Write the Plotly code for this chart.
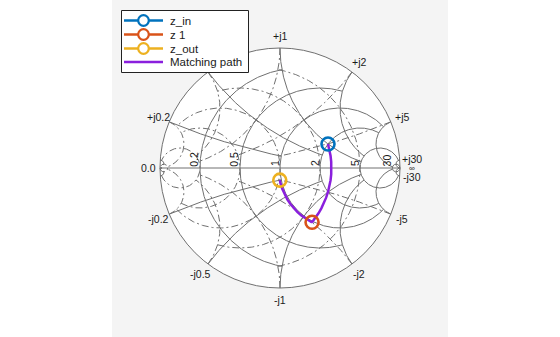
import numpy as np
import plotly.graph_objects as go

# ---------------- data ----------------
grid_values = [30, 5, 2, 1, 0.5, 0.2]          # grid circle values
grid_ends = [np.inf, 30, 5, 5, 2, 1]            # where each grid circle stops
real_labels = ["30", "5", "2", "1", "0.5", "0.2"]
imag_pos_labels = ["+j30", "+j5", "+j2", "+j1", "+j0.5", "+j0.2"]
imag_neg_labels = ["-j30", "-j5", "-j2", "-j1", "-j0.5", "-j0.2"]

series_names = ["z_in", "z 1", "z_out"]
series_r = [2.0, 0.976, 0.976]
series_x = [1.0, -1.22, -0.2]
series_colors = ["#0072BD", "#D95319", "#EDB120"]

path_name = "Matching path"
path_g = 0.4   # shunt step: constant conductance
path_b = [-0.2, -0.15, -0.1, -0.05, 0.0, 0.05, 0.1, 0.15, 0.2, 0.25, 0.3, 0.35, 0.4, 0.45, 0.5]
path_r = 0.976  # series step: constant resistance
path_x = [-1.22, -1.15, -1.05, -0.95, -0.85, -0.75, -0.65, -0.55, -0.45, -0.35, -0.25, -0.2]
path_color = "#8A1FDD"

# ---------------- helpers ----------------
W, H = 560, 337
CX, CY, RAD = 280.0, 168.0, 120.0   # chart centre / radius in px
GRID = "#707070"
FONT = "Liberation Sans, Arial, sans-serif"
TXT = "#1a1a1a"


def gamma(z):
    return (z - 1) / (z + 1)


def r_circle(r, e):
    c, R = r / (1 + r), 1 / (1 + r)
    t0 = 0.0 if np.isinf(e) else np.angle(gamma(complex(r, e)) - c)
    t = np.linspace(t0, 2 * np.pi - t0, 500)
    return c + R * np.exp(1j * t)


def x_arc(x, e):
    C, R = 1 + 1j / x, 1 / x
    g0 = gamma(1j * x)
    ge = 1 + 0j if np.isinf(e) else gamma(complex(e, x))
    p0 = np.angle(g0 - C) % (2 * np.pi)
    pe = np.angle(ge - C) % (2 * np.pi)
    if pe < p0:
        pe += 2 * np.pi
    t = np.linspace(p0, pe, 500)
    return C + R * np.exp(1j * t)


fig = go.Figure()


def add_curve(pts, dash):
    fig.add_trace(go.Scatter(x=pts.real, y=pts.imag, mode="lines",
                             line=dict(color=GRID, width=1, dash=dash),
                             hoverinfo="skip", showlegend=False))


# admittance grid (mirrored, dash-dot) then impedance grid (solid)
for sign, dash in [(-1, "7px,3px,2px,3px"), (1, "solid")]:
    for v, e in zip(grid_values, grid_ends):
        add_curve(sign * r_circle(v, e), dash)
        arc = x_arc(v, e)
        add_curve(sign * arc, dash)
        add_curve(sign * np.conj(arc), dash)
add_curve(np.array([-1 + 0j, 1 + 0j]), "solid")

# matching path
seg1 = gamma(1 / (path_g + 1j * np.array(path_b)))
seg2 = gamma(path_r + 1j * np.array(path_x))
path = np.concatenate([seg1, seg2])
fig.add_trace(go.Scatter(x=path.real, y=path.imag, mode="lines", name=path_name,
                         line=dict(color=path_color, width=2.5), showlegend=False))

# markers
for n, r, x, c in zip(series_names, series_r, series_x, series_colors):
    g = gamma(complex(r, x))
    fig.add_trace(go.Scatter(x=[g.real], y=[g.imag], mode="markers", name=n,
                             marker=dict(symbol="circle-open", size=13, color=c,
                                         line=dict(width=2.6, color=c)),
                             showlegend=False))

shapes = []
# figure background panel
shapes.append(dict(type="rect", xref="paper", yref="paper", x0=112 / W, x1=448 / W,
                   y0=0, y1=1, fillcolor="#F4F4F4", line=dict(width=0), layer="below"))
shapes.append(dict(type="circle", xref="x", yref="y", x0=-1, x1=1, y0=-1, y1=1,
                   fillcolor="white", line=dict(color=GRID, width=1), layer="below"))

annotations = []


def ann(x, y, text, **kw):
    d = dict(x=x, y=y, text=text, showarrow=False, xref="x", yref="y",
             font=dict(family=FONT, size=10.5, color=TXT),
             xanchor="center", yanchor="middle")
    d.update(kw)
    annotations.append(d)


# real-axis labels (rotated)
for v, lab in zip(grid_values, real_labels):
    gx = (v - 1) / (v + 1)
    ln = sum(2.9 if ch == "." else 5.8 for ch in lab)
    ann(gx - 5.5 / RAD, (1.5 + ln / 2) / RAD, lab, textangle=-90)

# reactance labels round the rim
for v, lp, lneg in zip(grid_values, imag_pos_labels, imag_neg_labels):
    g = gamma(1j * v) * 1.1
    if lp != "+j0.5":          # hidden beneath the legend in the reference
        ann(g.real, g.imag, lp)
    ann(g.real, -g.imag, lneg)
ann(-1.1, 0, "0.0")
ann(1.1, 0, "∞", font=dict(family=FONT, size=8, color=TXT))

# ---------------- legend (drawn manually) ----------------
def px(x):
    return x / W


def py(y):
    return 1 - y / H


L0, T0, L1, T1 = 121.5, 10.5, 248.5, 72.5
shapes.append(dict(type="rect", xref="paper", yref="paper", x0=px(L0), x1=px(L1),
                   y0=py(T1), y1=py(T0), fillcolor="white",
                   line=dict(color="#222222", width=1), layer="above"))
rows = [20.5, 34.5, 48.5, 62.0]
names = series_names + [path_name]
colors = series_colors + [path_color]
for i, (n, c, ry) in enumerate(zip(names, colors, rows)):
    shapes.append(dict(type="line", xref="paper", yref="paper", x0=px(124), x1=px(163),
                       y0=py(ry), y1=py(ry), line=dict(color=c, width=2.5), layer="above"))
    if i < 3:
        rr = 5.3
        shapes.append(dict(type="circle", xref="paper", yref="paper",
                           x0=px(143.5 - rr), x1=px(143.5 + rr),
                           y0=py(ry + rr), y1=py(ry - rr), fillcolor="white",
                           line=dict(color=c, width=2.2), layer="above"))
    annotations.append(dict(x=px(167.5), y=py(ry), xref="paper", yref="paper", text=n,
                            showarrow=False, xanchor="left", yanchor="middle",
                            font=dict(family=FONT, size=11.5, color=TXT)))

fig.update_layout(
    width=W, height=H, autosize=False,
    margin=dict(l=0, r=0, t=0, b=0, pad=0),
    paper_bgcolor="white", plot_bgcolor="rgba(0,0,0,0)",
    xaxis=dict(range=[-CX / RAD, (W - CX) / RAD], visible=False, fixedrange=True),
    yaxis=dict(range=[(CY - H) / RAD, CY / RAD], visible=False, fixedrange=True),
    shapes=shapes, annotations=annotations, showlegend=False,
)

fig.write_html("out.html")
